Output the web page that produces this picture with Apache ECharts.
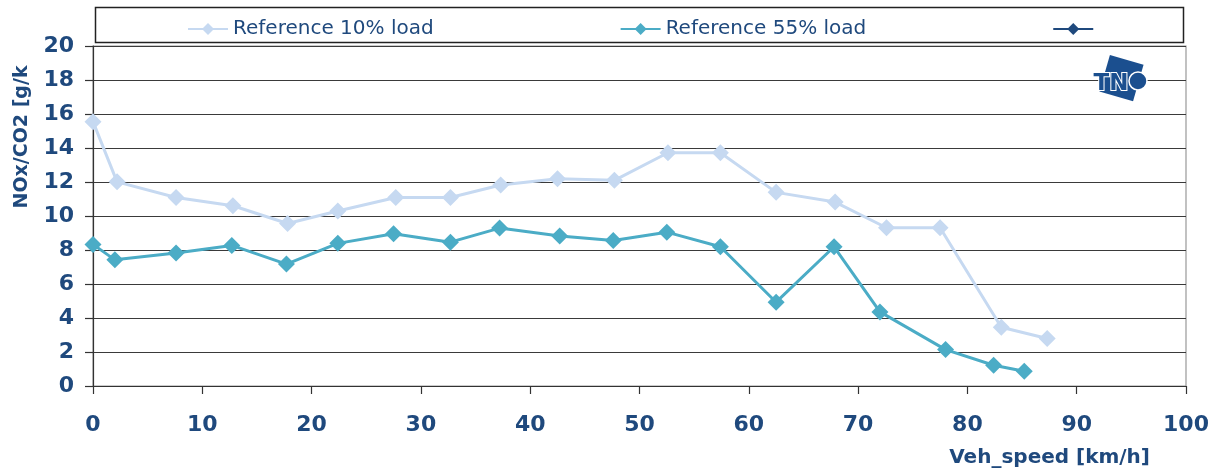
<!DOCTYPE html>
<html>
<head>
<meta charset="utf-8">
<script src="https://cdn.jsdelivr.net/npm/echarts@6/dist/echarts.min.js"></script>
<style>
html,body{margin:0;padding:0;background:#fff;}
#chart{width:1217px;height:472px;}
</style>
</head>
<body>
<div id="chart"></div>
<script>
// ---- data ----
var seriesNames = ['Reference 10% load', 'Reference 55% load', ' '];
var speed10 = [0, 2.2, 7.6, 12.8, 17.8, 22.4, 27.7, 32.7, 37.3, 42.5, 47.7, 52.6, 57.4, 62.5, 67.9, 72.6, 77.5, 83.1, 87.3];
var nox10   = [15.55, 12.01, 11.09, 10.6, 9.56, 10.29, 11.09, 11.09, 11.82, 12.19, 12.10, 13.72, 13.72, 11.39, 10.82, 9.31, 9.31, 3.46, 2.79];
var speed55 = [0, 2.0, 7.6, 12.7, 17.7, 22.4, 27.5, 32.7, 37.2, 42.7, 47.6, 52.5, 57.4, 62.5, 67.8, 72.0, 78.0, 82.4, 85.2];
var nox55   = [8.33, 7.42, 7.83, 8.27, 7.17, 8.39, 8.95, 8.46, 9.29, 8.82, 8.56, 9.05, 8.19, 4.93, 8.19, 4.36, 2.14, 1.22, 0.87];
var xTicks = [0, 10, 20, 30, 40, 50, 60, 70, 80, 90, 100];
var yTicks = [0, 2, 4, 6, 8, 10, 12, 14, 16, 18, 20];
var yAxisTitle = 'NOx/CO2 [g/k';
var xAxisTitle = 'Veh_speed [km/h]';

function pairs(xs, ys) { return xs.map(function (x, i) { return [x, ys[i]]; }); }

var textBlue = '#1F497D';
var c10 = '#C6D9F1';
var c55 = '#4BACC6';
var c3 = '#1F497D';

var chart = echarts.init(document.getElementById('chart'), null, {renderer: 'canvas'});
var option = {
  animation: false,
  backgroundColor: '#fff',
  grid: {left: 93, right: 31, top: 46, bottom: 86, containLabel: false,
         show: true, borderColor: '#999', borderWidth: 1.2, backgroundColor: 'transparent'},
  legend: {
    left: 182, top: 14,
    itemGap: 186, itemWidth: 40, itemHeight: 15,
    textStyle: {fontFamily: 'DejaVu Sans', fontSize: 20, color: textBlue},
    data: seriesNames
  },
  xAxis: {
    type: 'value', min: xTicks[0], max: xTicks[xTicks.length - 1], interval: 10,
    axisLine: {onZero: false, lineStyle: {color: '#333', width: 1.2}},
    axisTick: {show: true, inside: false, length: 8, lineStyle: {color: '#333', width: 1.2}},
    axisLabel: {margin: 28, fontFamily: 'DejaVu Sans', fontWeight: 'bold', fontSize: 22, color: textBlue},
    splitLine: {show: false}
  },
  yAxis: {
    type: 'value', min: yTicks[0], max: yTicks[yTicks.length - 1], interval: 2,
    axisLine: {show: true, lineStyle: {color: '#333', width: 1.2}},
    axisTick: {show: true, inside: false, length: 8, lineStyle: {color: '#333', width: 1.2}},
    axisLabel: {margin: 19, fontFamily: 'DejaVu Sans', fontWeight: 'bold', fontSize: 22, color: textBlue},
    splitLine: {show: true, lineStyle: {color: '#3a3a3a', width: 1.2}}
  },
  graphic: [
    {type: 'rect', z: 1, shape: {x: 95.5, y: 7.5, width: 1088, height: 35},
     style: {fill: 'none', stroke: '#222', lineWidth: 1.5}},
    {type: 'text', z: 10, x: 22, y: 137, rotation: Math.PI / 2,
     style: {text: yAxisTitle, fontFamily: 'DejaVu Sans', fontWeight: 'bold', fontSize: 19,
             fill: textBlue, align: 'center', verticalAlign: 'middle'}},
    {type: 'text', z: 10, x: 1150, y: 458,
     style: {text: xAxisTitle, fontFamily: 'DejaVu Sans', fontWeight: 'bold', fontSize: 20,
             fill: textBlue, align: 'right', verticalAlign: 'middle'}},
    // TNO logo
    {type: 'rect', z: 20, x: 1121, y: 78, originX: 0, originY: 0, rotation: -0.28,
     shape: {x: -17, y: -19, width: 35, height: 38}, style: {fill: '#1B4F8F'}},
    {type: 'circle', z: 21, shape: {cx: 1138, cy: 81, r: 9}, style: {fill: '#1B4F8F', stroke: '#fff', lineWidth: 1.5}},
    {type: 'text', z: 22, x: 1111, y: 84,
     style: {text: 'TN', fontFamily: 'DejaVu Sans', fontWeight: 'bold', fontSize: 23,
             fill: '#1B4F8F', stroke: '#fff', lineWidth: 2, align: 'center', verticalAlign: 'middle'}}
  ],
  series: [
    {name: seriesNames[0], type: 'line', data: pairs(speed10, nox10),
     symbol: 'diamond', symbolSize: 17, showAllSymbol: true,
     lineStyle: {color: c10, width: 3}, itemStyle: {color: c10}, z: 3},
    {name: seriesNames[1], type: 'line', data: pairs(speed55, nox55),
     symbol: 'diamond', symbolSize: 17, showAllSymbol: true,
     lineStyle: {color: c55, width: 3}, itemStyle: {color: c55}, z: 4},
    {name: seriesNames[2], type: 'line', data: [],
     symbol: 'diamond', symbolSize: 17,
     lineStyle: {color: c3, width: 3}, itemStyle: {color: c3}}
  ]
};
chart.setOption(option);
</script>
</body>
</html>
